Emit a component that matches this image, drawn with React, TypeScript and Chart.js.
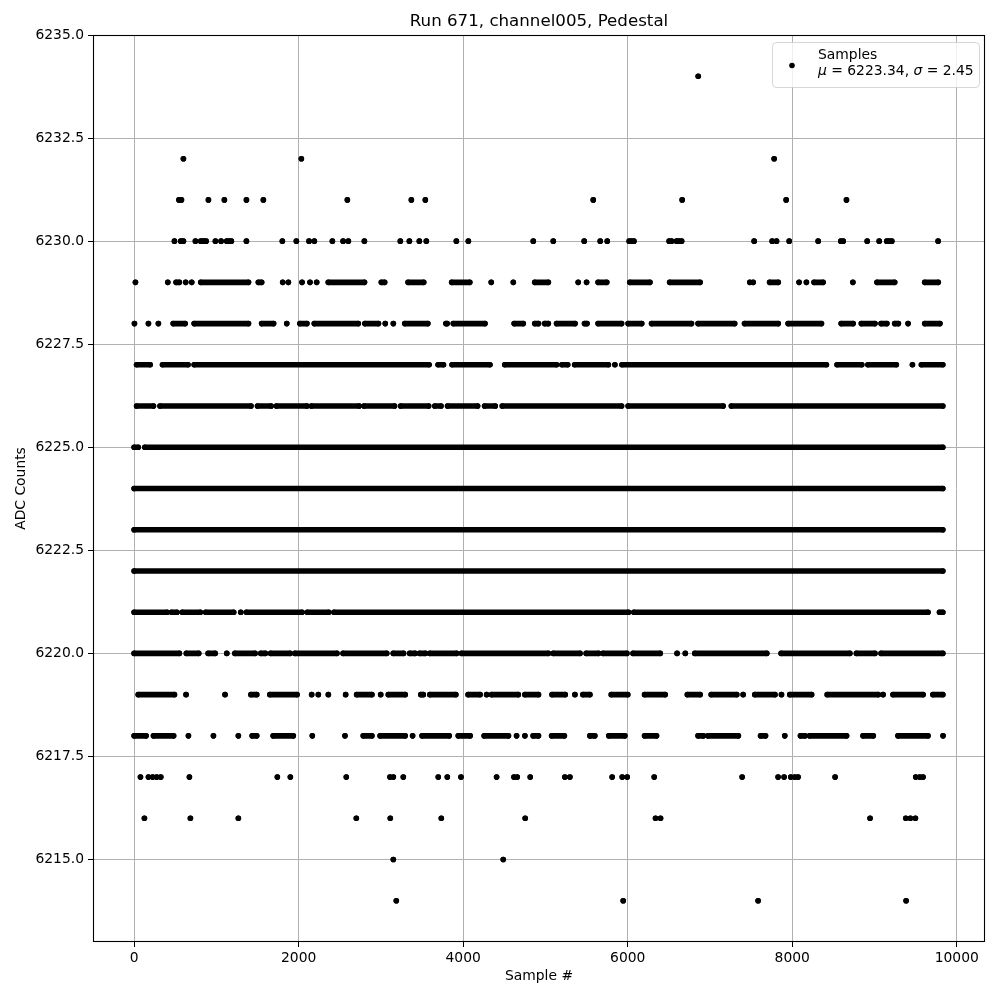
import React, { useEffect, useRef } from 'react';
import { Chart, registerables } from 'chart.js';

Chart.register(...registerables);

type Run = number | [number, number];

const TITLE = 'Run 671, channel005, Pedestal';
const X_LABEL = 'Sample #';
const Y_LABEL = 'ADC Counts';
const X_TICKS = [0, 2000, 4000, 6000, 8000, 10000];
const Y_TICKS = [6215, 6217.5, 6220, 6222.5, 6225, 6227.5, 6230, 6232.5, 6235];
const LEGEND_NAME = 'Samples';
const MU = '6223.34';
const SIGMA = '2.45';

// Sample indices per ADC level: single samples, or [first, last] runs of consecutive dense samples
const L6234: Run[] = [6857];
const L6232: Run[] = [599, 2033, 7780];
const L6231: Run[] = [545, 575, 903, 1097, 1365, 1571, 2592, 3370, 3540, 5581, 6662, 7926, 8659];
const L6230: Run[] = [490, 567, 599, 745, 810, 842, 875, 988, 1057, 1126, 1158, 1182, 1365, 1802, 1972, 2126, 2191, 2410, 2540, 2604, 2799, 3236, 3346, 3467, 3552, 3917, 4063, 4852, 5095, 5471, 5666, 5751, 6018, 6047, 6075, 6504, 6533, 6594, 6626, 6655, 7537, 7756, 7809, 7963, 8315, 8591, 8619, 8911, 9057, 9149, 9182, 9210, 9773];
const L6229: Run[] = [16, 409, [510, 550], 627, 700, [810, 1390], [1510, 1550], 1806, 1875, 2041, 2138, 2219, [2360, 2800], [3005, 3045], [3330, 3520], [3860, 4080], 4341, 4609, [4870, 5035], 5398, 5500, [5640, 5745], [6025, 6270], [6510, 6880], 7484, 7525, [7725, 7830], 8083, 8172, [8265, 8375], 8737, [9030, 9245], [9610, 9775]];
const L6228: Run[] = [4, 174, 295, [475, 620], [730, 1390], [1550, 1695], 1855, [2015, 2100], [2190, 2725], [2805, 2970], 3053, 3151, [3290, 3570], [3790, 3805], [3880, 4265], [4620, 4730], [4870, 4915], [4990, 5035], [5135, 5360], [5475, 5505], [5640, 5925], [6005, 6170], [6290, 6775], [6855, 7300], [7420, 7830], [7950, 8355], [8595, 8740], [8840, 9005], [9080, 9150], [9245, 9290], 9408, [9610, 9795]];
const L6227: Run[] = [[30, 195], [345, 655], [730, 3585], [3695, 3760], [3865, 4325], [4505, 5135], [5200, 5270], [5355, 5765], 5844, [5930, 8415], [8545, 8845], [8920, 9265], 9461, [9570, 9830]];
const L6226: Run[] = [[30, 235], [315, 1420], [1500, 1665], [1730, 2100], [2155, 2735], [2795, 3165], [3240, 3580], [3655, 3730], [3810, 4175], [4260, 4390], [4475, 5925], [6005, 7160], [7260, 9830]];
const L6225: Run[] = [[0, 50], [130, 9830]];
const L6224: Run[] = [[0, 9830]];
const L6223: Run[] = [[0, 9830]];
const L6222: Run[] = [[0, 9830]];
const L6221: Run[] = [[0, 400], [455, 520], [585, 805], [870, 1210], 1296, [1365, 2040], [2105, 2365], [2430, 6010], [6075, 9650], [9790, 9830]];
const L6220: Run[] = [[0, 550], [635, 785], [900, 985], 1126, [1225, 1470], [1540, 1595], [1660, 1895], [1955, 2465], [2540, 3070], [3150, 3275], [3350, 3415], [3470, 3540], [3595, 3920], [3980, 5035], [5095, 5420], [5495, 5645], [5700, 5990], [6065, 6395], 6600, 6700, [6815, 7690], [7865, 8700], [8780, 9005], [9080, 9830]];
const L6219: Run[] = [[50, 490], 631, 1105, [1420, 1490], [1650, 1980], 2158, 2239, 2361, 2571, [2705, 2890], 2997, [3090, 3295], [3485, 3515], [3595, 3910], [4060, 4205], 4285, [4345, 4670], [4750, 4915], [5080, 5240], 5358, [5455, 5540], [5800, 6000], [6205, 6455], [6725, 6880], [7015, 7325], 7403, [7545, 7790], 7869, [7970, 8235], [8425, 9045], 9104, [9225, 9590], [9710, 9830]];
const L6218: Run[] = [[0, 145], [235, 480], 660, 964, 1267, [1435, 1490], [1690, 1935], 2166, 2563, [2785, 2890], [2990, 3295], 3385, [3500, 3830], [3940, 4085], [4255, 4550], 4649, 4750, [4850, 4915], [5075, 5230], [5540, 5600], [5770, 5965], [6205, 6350], [6855, 6920], [6975, 7345], [7615, 7675], 7909, [8100, 8155], [8210, 8660], [8860, 8985], [9285, 9650], 9833];
const L6217: Run[] = [77, 174, 226, 275, 324, 672, 1741, 1899, 2579, 3110, 3151, 3272, 3697, 3807, 3973, 4406, 4617, 4657, 4815, 5236, 5297, 5811, 5933, 5994, 6322, 7391, 7828, 7901, 7982, 8031, 8071, 8521, 9501, 9550, 9590];
const L6216: Run[] = [125, 684, 1267, 2701, 3114, 3734, 4754, 6338, 6399, 8946, 9380, 9436, 9497];
const L6215: Run[] = [3151, 4487];
const L6214: Run[] = [3187, 5945, 7585, 9384];

const LEVELS: [number, Run[]][] = [
  [6234, L6234], [6232, L6232], [6231, L6231], [6230, L6230], [6229, L6229],
  [6228, L6228], [6227, L6227], [6226, L6226], [6225, L6225], [6224, L6224],
  [6223, L6223], [6222, L6222], [6221, L6221], [6220, L6220], [6219, L6219],
  [6218, L6218], [6217, L6217], [6216, L6216], [6215, L6215], [6214, L6214],
];

const FONT = 'DejaVu Sans';
const DOT = 2.8;

const framePlugin = {
  id: 'frame',
  afterDatasetsDraw(chart: any) {
    const { ctx, chartArea } = chart;
    const { left, top, right, bottom } = chartArea;
    ctx.save();
    ctx.strokeStyle = '#000';
    ctx.lineWidth = 1.1;
    ctx.strokeRect(left + 0.5, top + 0.5, right - left - 1, bottom - top - 1);
    ctx.restore();
  },
};

const legendPlugin = {
  id: 'mplLegend',
  afterDraw(chart: any) {
    const { ctx, chartArea } = chart;
    const right = chartArea.right - 6;
    const top = chartArea.top + 7;
    const w = 207;
    const h = 45;
    const left = right - w;
    ctx.save();
    ctx.beginPath();
    ctx.roundRect(left + 0.5, top + 0.5, w, h, 4);
    ctx.fillStyle = 'rgba(255,255,255,0.8)';
    ctx.fill();
    ctx.strokeStyle = 'rgba(204,204,204,0.8)';
    ctx.lineWidth = 1;
    ctx.stroke();
    ctx.fillStyle = '#000';
    ctx.beginPath();
    ctx.arc(left + 20, top + 23.5, DOT, 0, Math.PI * 2);
    ctx.fill();
    const size = 13.89;
    const tx = left + 46;
    ctx.textBaseline = 'alphabetic';
    ctx.font = `${size}px "${FONT}"`;
    ctx.fillText(LEGEND_NAME, tx, top + 17);
    const parts: [string, boolean][] = [
      ['μ', true], [' = ' + MU + ', ', false], ['σ', true], [' = ' + SIGMA, false],
    ];
    let x = tx;
    const y2 = top + 33;
    for (const [t, it] of parts) {
      ctx.font = `${it ? 'italic ' : ''}${size}px "${FONT}"`;
      ctx.fillText(t, x, y2);
      x += ctx.measureText(t).width;
    }
    ctx.restore();
  },
};

function buildDatasets() {
  return LEVELS.map(([level, runs]) => {
    const data: { x: number; y: number | null }[] = [];
    runs.forEach((r) => {
      const [a, b] = typeof r === 'number' ? [r, r] : r;
      data.push({ x: a, y: level });
      if (b !== a) data.push({ x: b, y: level });
      data.push({ x: b, y: null });
    });
    return {
      label: String(level),
      data,
      showLine: true,
      spanGaps: false,
      borderColor: '#000',
      backgroundColor: '#000',
      borderWidth: DOT * 2,
      borderCapStyle: 'round',
      pointRadius: DOT,
      pointBorderWidth: 0,
      pointHoverRadius: DOT,
    };
  });
}

export default function App() {
  const ref = useRef<HTMLCanvasElement | null>(null);

  useEffect(() => {
    if (!ref.current) return;
    const tickFont = { family: FONT, size: 13.89 };
    const chart = new Chart(ref.current, {
      type: 'scatter',
      data: { datasets: buildDatasets() as any },
      options: {
        animation: false,
        responsive: false,
        devicePixelRatio: 1,
        events: [],
        layout: { padding: { top: 0, left: 0, right: 15, bottom: 0 } },
        plugins: {
          legend: { display: false },
          tooltip: { enabled: false },
          title: {
            display: true,
            text: TITLE,
            fullSize: false,
            color: '#000',
            font: { family: FONT, size: 16.67, weight: 'normal', lineHeight: 1.2 },
            padding: { top: 12, bottom: 3 },
          },
        },
        scales: {
          x: {
            type: 'linear',
            min: -500,
            max: 10343,
            afterBuildTicks: (s: any) => {
              s.ticks = X_TICKS.map((v) => ({ value: v }));
            },
            afterFit: (s: any) => {
              s.height = 58;
            },
            ticks: {
              color: '#000',
              font: tickFont,
              padding: 3,
              autoSkip: false,
              maxRotation: 0,
              callback: (v: any) => String(v),
            },
            grid: { color: '#b0b0b0', lineWidth: 1, tickColor: '#000', tickLength: 5 },
            border: { display: false },
            title: {
              display: true,
              text: X_LABEL,
              color: '#000',
              font: { family: FONT, size: 13.89, lineHeight: 1.2 },
              padding: { top: 0, bottom: 15 },
            },
          },
          y: {
            type: 'linear',
            min: 6213,
            max: 6235,
            afterBuildTicks: (s: any) => {
              s.ticks = Y_TICKS.map((v) => ({ value: v }));
            },
            afterFit: (s: any) => {
              s.width = 93;
            },
            ticks: {
              color: '#000',
              font: tickFont,
              padding: 4,
              autoSkip: false,
              callback: (v: any) => Number(v).toFixed(1),
            },
            grid: { color: '#b0b0b0', lineWidth: 1, tickColor: '#000', tickLength: 5 },
            border: { display: false },
            title: {
              display: true,
              text: Y_LABEL,
              color: '#000',
              font: { family: FONT, size: 13.89, lineHeight: 1.2 },
              padding: { top: 13, bottom: 0 },
            },
          },
        },
      } as any,
      plugins: [framePlugin, legendPlugin],
    });
    return () => chart.destroy();
  }, []);

  return (
    <div style={{ position: 'fixed', left: 0, top: 0, width: 1000, height: 1000, background: '#fff' }}>
      <canvas ref={ref} width={1000} height={1000} style={{ display: 'block' }} />
    </div>
  );
}
